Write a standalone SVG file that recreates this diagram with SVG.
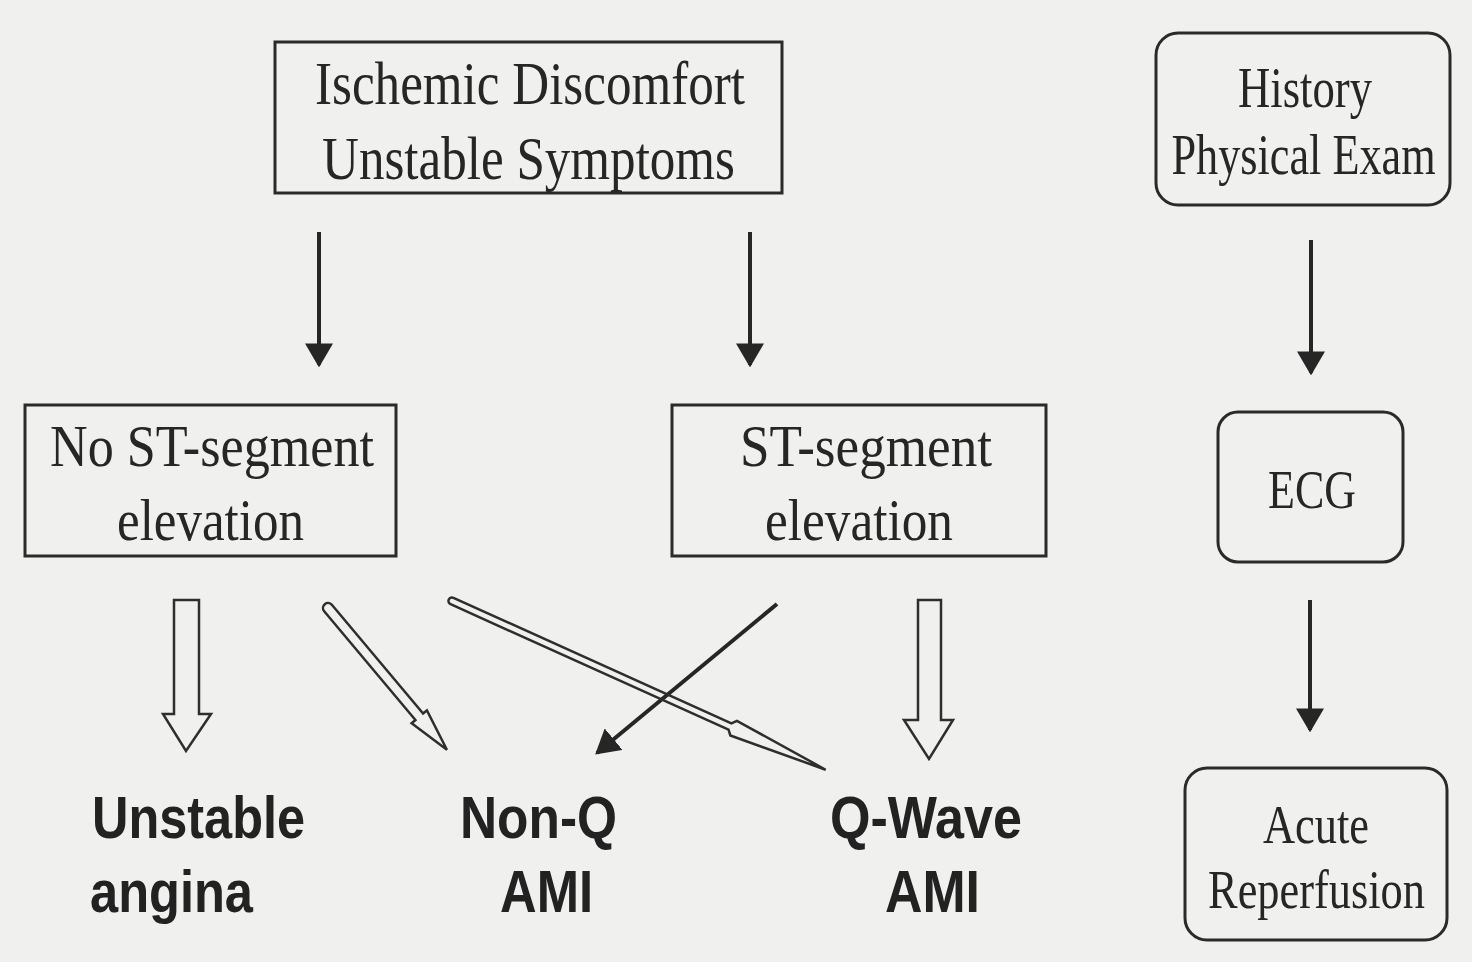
<svg xmlns="http://www.w3.org/2000/svg" width="1472" height="962" viewBox="0 0 1472 962">
<defs>
<style>
.bx{fill:none;stroke:#2a2a2a;stroke-width:3}
.t{font-family:"Liberation Serif","Times New Roman",serif;fill:#262626;text-anchor:start}
.tm{font-family:"Liberation Serif","Times New Roman",serif;fill:#262626;text-anchor:middle}
.b{font-family:"Liberation Sans",Arial,sans-serif;font-weight:bold;fill:#222;font-size:60px}
.ln{stroke:#262626;stroke-width:4;fill:none}
.ho{fill:none;stroke:#2e2e2e;stroke-width:2.5;stroke-linejoin:miter}
</style>
<marker id="ah" viewBox="0 0 10 10" refX="9" refY="5" markerWidth="6" markerHeight="7" markerUnits="strokeWidth" orient="auto" preserveAspectRatio="none">
<path d="M0,0 L10,5 L0,10 Z" fill="#262626"/>
</marker>
</defs>
<rect width="1472" height="962" fill="#f0f0ee"/>

<g id="ischemic">
<rect class="bx" x="275" y="42" width="507" height="151"/>
<text class="t" font-size="62" x="315" y="104" textLength="430" lengthAdjust="spacingAndGlyphs">Ischemic Discomfort</text>
<text class="t" font-size="62" x="322" y="179" textLength="413" lengthAdjust="spacingAndGlyphs">Unstable Symptoms</text>
</g>

<g id="no-st">
<rect class="bx" x="25" y="405" width="371" height="151"/>
<text class="t" font-size="60" x="50" y="466" textLength="324" lengthAdjust="spacingAndGlyphs">No ST-segment</text>
<text class="t" font-size="60" x="117" y="540" textLength="187" lengthAdjust="spacingAndGlyphs">elevation</text>
</g>

<g id="st">
<rect class="bx" x="672" y="405" width="374" height="151"/>
<text class="t" font-size="60" x="740" y="466" textLength="252" lengthAdjust="spacingAndGlyphs">ST-segment</text>
<text class="t" font-size="60" x="765" y="540" textLength="188" lengthAdjust="spacingAndGlyphs">elevation</text>
</g>

<g id="history">
<rect class="bx" x="1156" y="33" width="294" height="172" rx="22"/>
<text class="t" font-size="56" x="1238" y="107" textLength="134" lengthAdjust="spacingAndGlyphs">History</text>
<text class="tm" font-size="56" transform="translate(1303.5,174) scale(0.79,1)" x="0" y="0">Physical Exam</text>
</g>

<g id="ecg">
<rect class="bx" x="1218" y="412" width="185" height="150" rx="20"/>
<text class="t" font-size="55" x="1268" y="508" textLength="88" lengthAdjust="spacingAndGlyphs">ECG</text>
</g>

<g id="reperfusion">
<rect class="bx" x="1185" y="768" width="262" height="172" rx="22"/>
<text class="t" font-size="55" x="1263" y="843" textLength="106" lengthAdjust="spacingAndGlyphs">Acute</text>
<text class="tm" font-size="55" transform="translate(1316.5,908) scale(0.807,1)" x="0" y="0">Reperfusion</text>
</g>

<g id="unstable-angina">
<text class="b" x="92" y="838" textLength="213" lengthAdjust="spacingAndGlyphs">Unstable</text>
<text class="b" x="90" y="912" textLength="163" lengthAdjust="spacingAndGlyphs">angina</text>
</g>

<g id="non-q">
<text class="b" x="460" y="838" textLength="157" lengthAdjust="spacingAndGlyphs">Non-Q</text>
<text class="b" x="500" y="912" textLength="93" lengthAdjust="spacingAndGlyphs">AMI</text>
</g>

<g id="q-wave">
<text class="b" x="830" y="838" textLength="192" lengthAdjust="spacingAndGlyphs">Q-Wave</text>
<text class="b" x="885" y="912" textLength="95" lengthAdjust="spacingAndGlyphs">AMI</text>
</g>

<g id="connectors">
<line class="ln" x1="319" y1="232" x2="319" y2="365" marker-end="url(#ah)"/>
<line class="ln" x1="750" y1="232" x2="750" y2="365" marker-end="url(#ah)"/>
<line class="ln" x1="1311" y1="240" x2="1311" y2="373" marker-end="url(#ah)"/>
<line class="ln" x1="1310" y1="600" x2="1310" y2="730" marker-end="url(#ah)"/>
<line class="ln" x1="777" y1="604" x2="597" y2="753" marker-end="url(#ah)"/>
<path class="ho" d="M174,600 L199,600 L199,714 L211,714 L186,751 L163,714 L174,714 Z"/>
<path class="ho" d="M918,600 L941,600 L941,720 L953,720 L929,759 L904,720 L918,720 Z"/>
<path class="ho" transform="translate(328,608) rotate(50)" d="M0,-5 L142,-5 L142,-10 L185,0 L142,10 L142,5 L0,5 A5,5 0 0 1 0,-5 Z"/>
<path class="ho" transform="translate(452,601) rotate(24.3)" d="M0,-3.5 L305,-3.5 L309,-8 L410,0 L309,8 L305,3.5 L0,3.5 A3.5,3.5 0 0 1 0,-3.5 Z"/>
</g>
</svg>
